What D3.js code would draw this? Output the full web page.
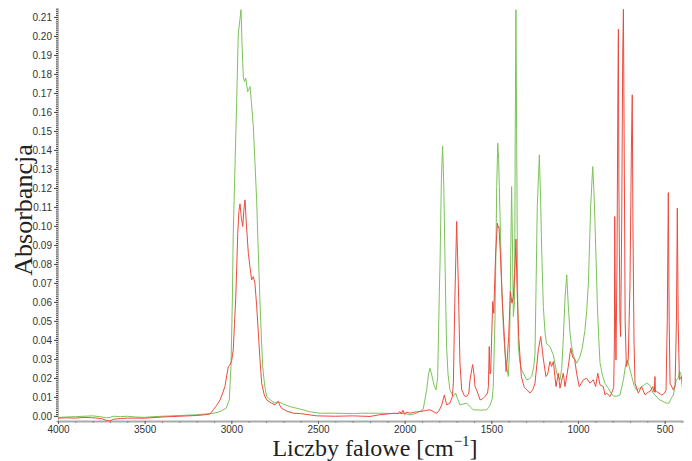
<!DOCTYPE html>
<html lang="pl">
<head>
  <meta charset="UTF-8">
  <title>Widmo IR</title>
  <style>
    body {
      margin: 0;
      background-color: #fff;
    }
    svg {
      display: block;
    }
    .tick text {
      font-family: "Liberation Sans", Arial, sans-serif;
      font-size: 10px;
      fill: #333;
    }
    .title {
      font-family: "Liberation Serif", "Times New Roman", serif;
      fill: #222;
    }
  </style>
  <script src="https://d3js.org/d3.v7.min.js"></script>
</head>
<body>
  <svg width="692" height="461"></svg>

  <script>
    // Ticks (cm-1 and absorbance)
    const xMajorTicks = [4000, 3500, 3000, 2500, 2000, 1500, 1000, 500];
    const yMajorTicks = d3.range(0, 22).map(i => i / 100);

    // Green spectrum [wavenumber, absorbance]
    const greenSpectrum = [
      [4000, -0.0008], [3950, -0.0006], [3900, -0.0004], [3850, -0.0002], [3800, 0.0000],
      [3760, -0.0004], [3720, -0.0010], [3700, -0.0008], [3680, -0.0002], [3640, -0.0004],
      [3600, -0.0002], [3550, -0.0006], [3500, -0.0008], [3450, -0.0004], [3400, -0.0002],
      [3350, 0.0000], [3300, 0.0002], [3250, 0.0004], [3200, 0.0006], [3150, 0.0010],
      [3100, 0.0014], [3065, 0.0023], [3030, 0.0040], [3012, 0.0084], [3002, 0.026],
      [2994, 0.061], [2989, 0.096], [2979, 0.131], [2969, 0.166], [2960, 0.201],
      [2944, 0.2138], [2938, 0.195], [2931, 0.1786], [2924, 0.176], [2917, 0.1777],
      [2906, 0.1707], [2898, 0.172], [2892, 0.1733], [2884, 0.165], [2873, 0.152],
      [2864, 0.134], [2854, 0.1137], [2845, 0.088], [2835, 0.061], [2827, 0.042],
      [2819, 0.026], [2808, 0.016], [2796, 0.0102], [2770, 0.0080], [2750, 0.0068],
      [2729, 0.0075], [2700, 0.0062], [2662, 0.0049], [2600, 0.0035], [2550, 0.0022],
      [2488, 0.0014], [2400, 0.0014], [2300, 0.0012], [2258, 0.0014], [2150, 0.0014],
      [2050, 0.0012], [2000, 0.0014], [1969, 0.0005], [1931, 0.0014], [1910, 0.0025],
      [1893, 0.0035], [1873, 0.0137], [1862, 0.022], [1854, 0.0251], [1845, 0.022],
      [1830, 0.016], [1819, 0.0137], [1810, 0.020], [1806, 0.0365], [1800, 0.065],
      [1796, 0.080], [1788, 0.125], [1781, 0.1421], [1774, 0.120], [1767, 0.080],
      [1762, 0.055], [1758, 0.0365], [1750, 0.022], [1739, 0.0137], [1719, 0.0102],
      [1706, 0.0120], [1695, 0.009], [1681, 0.0058], [1642, 0.0067], [1620, 0.0045],
      [1604, 0.0032], [1560, 0.0030], [1527, 0.0032], [1510, 0.0050], [1495, 0.0090],
      [1489, 0.0154], [1479, 0.0505], [1473, 0.09], [1469, 0.1207], [1463, 0.1435],
      [1458, 0.135], [1454, 0.1207], [1447, 0.095], [1440, 0.068], [1430, 0.045],
      [1421, 0.033], [1410, 0.025], [1402, 0.0207], [1395, 0.035], [1388, 0.085],
      [1383, 0.1207], [1378, 0.09], [1373, 0.0523], [1366, 0.06], [1362, 0.15],
      [1358, 0.2138], [1354, 0.15], [1349, 0.07], [1344, 0.0365], [1335, 0.028],
      [1325, 0.0242], [1296, 0.019], [1280, 0.0195], [1267, 0.0207], [1255, 0.026],
      [1248, 0.033], [1242, 0.068], [1235, 0.11], [1223, 0.1374], [1216, 0.115],
      [1209, 0.0856], [1200, 0.0575], [1190, 0.0435], [1181, 0.038], [1162, 0.0365],
      [1142, 0.032], [1123, 0.0225], [1104, 0.019], [1094, 0.025], [1085, 0.040],
      [1075, 0.062], [1065, 0.0742], [1056, 0.058], [1046, 0.0435], [1037, 0.0365],
      [1027, 0.032], [1008, 0.0277], [989, 0.031], [975, 0.036], [960, 0.045],
      [950, 0.055], [940, 0.0698], [927, 0.110], [915, 0.1312], [908, 0.118],
      [902, 0.1014], [895, 0.080], [888, 0.0575], [880, 0.04], [873, 0.028],
      [858, 0.021], [844, 0.017], [825, 0.0145], [810, 0.012], [796, 0.0105],
      [780, 0.0102], [758, 0.011], [738, 0.019], [725, 0.027], [714, 0.0295],
      [705, 0.026], [690, 0.0207], [675, 0.0155], [662, 0.0137], [645, 0.0145],
      [633, 0.0154], [615, 0.0165], [604, 0.0172], [590, 0.0165], [581, 0.0154],
      [566, 0.012], [556, 0.011], [529, 0.0084], [508, 0.0075], [490, 0.0067],
      [475, 0.0067], [462, 0.0093], [450, 0.011], [433, 0.019], [421, 0.020],
      [414, 0.0233], [407, 0.0225], [398, 0.0146]
    ];

    // Red spectrum [wavenumber, absorbance]
    const redSpectrum = [
      [4000, -0.0012], [3950, -0.0010], [3900, -0.0012], [3850, -0.0008], [3800, -0.0010],
      [3750, -0.0014], [3720, -0.0024], [3700, -0.0026], [3680, -0.0018], [3640, -0.0014],
      [3600, -0.0012], [3500, -0.0012], [3400, -0.0006], [3300, -0.0002], [3200, 0.0002],
      [3150, 0.0006], [3123, 0.0010], [3104, 0.0032], [3085, 0.0055], [3065, 0.0084],
      [3050, 0.012], [3037, 0.0154], [3025, 0.022], [3017, 0.026], [3008, 0.0268],
      [2998, 0.029], [2989, 0.0347], [2982, 0.048], [2975, 0.061], [2969, 0.078],
      [2963, 0.096], [2956, 0.108], [2950, 0.1116], [2942, 0.104], [2934, 0.0997],
      [2928, 0.108], [2921, 0.1137], [2914, 0.102], [2902, 0.0856], [2892, 0.078],
      [2883, 0.0716], [2873, 0.0733], [2864, 0.070], [2854, 0.058], [2844, 0.0435],
      [2835, 0.030], [2825, 0.0172], [2810, 0.011], [2796, 0.0084], [2770, 0.0068],
      [2748, 0.0058], [2738, 0.0068], [2729, 0.0075], [2720, 0.0055], [2710, 0.004],
      [2680, 0.0025], [2643, 0.0014], [2600, 0.0012], [2508, 0.0000], [2400, -0.0002],
      [2300, 0.0000], [2200, -0.0003], [2150, 0.0005], [2100, 0.0010], [2060, 0.0014],
      [2040, 0.0012], [2027, 0.0023], [2020, 0.0010], [2010, 0.0030], [2000, 0.0008],
      [1990, 0.0020], [1969, 0.0014], [1940, 0.0020], [1912, 0.0023], [1880, 0.0028],
      [1854, 0.0032], [1830, 0.0020], [1815, 0.0014], [1800, 0.0030], [1786, 0.0058],
      [1771, 0.011], [1758, 0.0058], [1739, 0.0067], [1725, 0.010], [1719, 0.0172],
      [1710, 0.0628], [1700, 0.1023], [1691, 0.0716], [1681, 0.0277], [1671, 0.0137],
      [1655, 0.0105], [1642, 0.0102], [1630, 0.012], [1623, 0.019], [1608, 0.027],
      [1600, 0.022], [1594, 0.0154], [1585, 0.0137], [1565, 0.0084], [1550, 0.009],
      [1537, 0.0102], [1522, 0.012], [1517, 0.0154], [1512, 0.0365], [1508, 0.022],
      [1504, 0.0225], [1492, 0.0602], [1486, 0.054], [1480, 0.072], [1475, 0.0856],
      [1465, 0.1014], [1460, 0.099], [1456, 0.0996], [1448, 0.0856], [1436, 0.0593],
      [1425, 0.0417], [1415, 0.0233], [1408, 0.030], [1400, 0.0417], [1390, 0.0654],
      [1381, 0.0593], [1373, 0.0628], [1365, 0.075], [1358, 0.093], [1352, 0.068],
      [1342, 0.0417], [1327, 0.0207], [1310, 0.015], [1296, 0.0137], [1277, 0.012],
      [1260, 0.014], [1248, 0.0172], [1229, 0.0347], [1215, 0.0417], [1200, 0.030],
      [1185, 0.0207], [1175, 0.022], [1162, 0.0286], [1152, 0.026], [1142, 0.0286],
      [1127, 0.0154], [1113, 0.0225], [1104, 0.0146], [1085, 0.0225], [1075, 0.0154],
      [1056, 0.026], [1042, 0.0356], [1031, 0.031], [1019, 0.0295], [1008, 0.0225],
      [993, 0.0154], [969, 0.019], [950, 0.0198], [931, 0.0172], [912, 0.019],
      [898, 0.0154], [886, 0.0225], [873, 0.0163], [854, 0.0154], [844, 0.011],
      [835, 0.012], [815, 0.0102], [806, 0.012], [794, 0.015], [790, 0.040],
      [788, 0.1049], [785, 0.060], [781, 0.0295], [775, 0.08], [770, 0.17],
      [767, 0.2035], [764, 0.12], [758, 0.050], [754, 0.0417], [748, 0.10],
      [742, 0.19], [738, 0.2140], [734, 0.15], [728, 0.05], [721, 0.026],
      [710, 0.03], [700, 0.07], [692, 0.14], [687, 0.169], [683, 0.10],
      [677, 0.04], [671, 0.0172], [652, 0.012], [633, 0.0154], [613, 0.011],
      [595, 0.0125], [584, 0.0128], [569, 0.0154], [560, 0.0125], [556, 0.0207],
      [553, 0.0125], [546, 0.0128], [517, 0.011], [500, 0.0120], [492, 0.0137],
      [485, 0.05], [479, 0.1175], [474, 0.05], [469, 0.0172], [450, 0.0137],
      [440, 0.016], [432, 0.05], [427, 0.1093], [422, 0.05], [415, 0.019],
      [402, 0.0207], [398, 0.018]
    ];

    const svg = d3.select("svg");

    // Plot area
    const plotLeft = 58, plotRight = 682, plotTop = 8, plotBottom = 421;

    const x = d3.scaleLinear().domain([4000, 400]).range([plotLeft, plotRight]);
    const y = d3.scaleLinear().domain([-0.0027, 0.2147]).range([plotBottom, plotTop]);

    // Clip so the tallest peaks stop at the top of the frame
    svg.append("clipPath").attr("id", "plot")
      .append("rect")
      .attr("x", plotLeft).attr("y", plotTop)
      .attr("width", plotRight - plotLeft).attr("height", plotBottom - plotTop);

    // Y axis: minor ticks every 0.001 give the dotted look
    svg.append("g")
      .attr("transform", `translate(${plotLeft},0)`)
      .call(d3.axisLeft(y).tickValues(d3.range(0, 215).map(i => i / 1000)).tickSize(2).tickFormat(""))
      .call(g => g.select(".domain").attr("stroke", "#bbb"))
      .call(g => g.selectAll(".tick line").attr("stroke", "#444"));

    svg.append("g")
      .attr("transform", `translate(${plotLeft},0)`)
      .call(d3.axisLeft(y).tickValues(yMajorTicks).tickSize(4).tickPadding(2).tickFormat(d3.format(".2f")))
      .call(g => g.select(".domain").remove())
      .call(g => g.selectAll(".tick line").attr("stroke", "#444"));

    // X axis: minor ticks every 100 cm-1
    svg.append("g")
      .attr("transform", `translate(0,${plotBottom})`)
      .call(d3.axisBottom(x).tickValues(d3.range(500, 4001, 100)).tickSize(2).tickFormat(""))
      .call(g => g.select(".domain").attr("stroke", "#aaa").attr("stroke-width", 2))
      .call(g => g.selectAll(".tick line").attr("stroke", "#888"));

    svg.append("g")
      .attr("transform", `translate(0,${plotBottom})`)
      .call(d3.axisBottom(x).tickValues(xMajorTicks).tickSize(3).tickPadding(2).tickFormat(d3.format("d")))
      .call(g => g.select(".domain").remove())
      .call(g => g.selectAll(".tick line").attr("stroke", "#666"));

    // Spectra
    const line = d3.line()
      .x(d => x(d[0]))
      .y(d => y(d[1]));

    const plot = svg.append("g").attr("clip-path", "url(#plot)");

    plot.append("path")
      .datum(greenSpectrum)
      .attr("fill", "none")
      .attr("stroke", "#7cc35a")
      .attr("stroke-width", 1)
      .attr("d", line);

    plot.append("path")
      .datum(redSpectrum)
      .attr("fill", "none")
      .attr("stroke", "#ee4a3c")
      .attr("stroke-width", 1)
      .attr("d", line);

    // Axis titles
    svg.append("text")
      .attr("class", "title")
      .attr("transform", "translate(32,210) rotate(-90)")
      .attr("text-anchor", "middle")
      .attr("font-size", 26)
      .text("Absorbancja");

    const xt = svg.append("text")
      .attr("class", "title")
      .attr("x", 375)
      .attr("y", 455.5)
      .attr("text-anchor", "middle")
      .attr("font-size", 24);
    xt.append("tspan").text("Liczby falowe [cm");
    xt.append("tspan").attr("font-size", 15).attr("dy", -10).text("\u22121");
    xt.append("tspan").attr("dy", 10).text("]");
  </script>
</body>
</html>
